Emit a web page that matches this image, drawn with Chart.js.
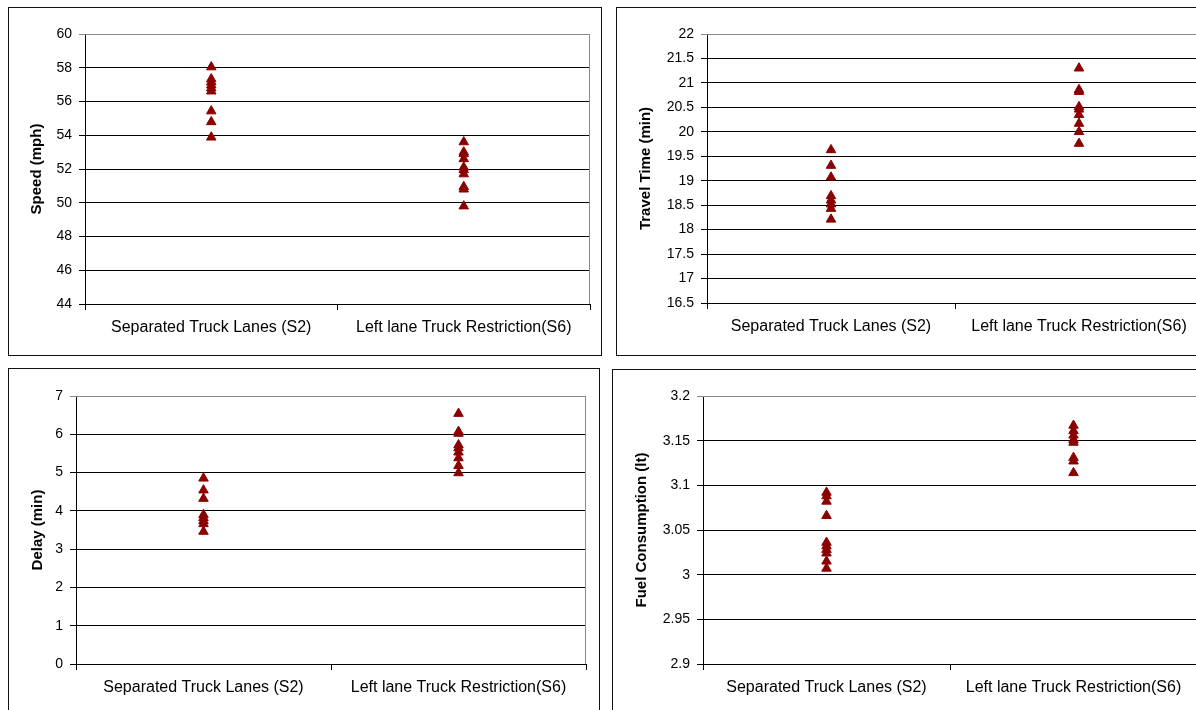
<!DOCTYPE html>
<html>
<head>
<meta charset="utf-8">
<script src="https://cdn.jsdelivr.net/npm/chart.js@4/dist/chart.umd.min.js"></script>
<style>
  html, body { margin: 0; padding: 0; background: #fff; }
  body { width: 1196px; height: 710px; overflow: hidden; position: relative; }
  .box { position: absolute; border: 1.5px solid #111; box-sizing: border-box; }
  .wrap { position: absolute; }
</style>
</head>
<body>
<div class="box" style="left:8px;top:7px;width:594px;height:349px"></div>
<div class="box" style="left:616px;top:7px;width:600px;height:349px"></div>
<div class="box" style="left:8px;top:368px;width:592px;height:360px"></div>
<div class="box" style="left:612px;top:369px;width:600px;height:360px"></div>

<div class="wrap" style="left:8px;top:7px;width:594px;height:349px"><canvas id="c1"></canvas></div>
<div class="wrap" style="left:616px;top:7px;width:600px;height:349px"><canvas id="c2"></canvas></div>
<div class="wrap" style="left:8px;top:368px;width:592px;height:360px"><canvas id="c3"></canvas></div>
<div class="wrap" style="left:612px;top:369px;width:600px;height:360px"><canvas id="c4"></canvas></div>

<script>
// categorias (eje x)
const categories = ["Separated Truck Lanes (S2)", "Left lane Truck Restriction(S6)"];

// velocidad (mph)
const speedS2 = [58.04, 57.33, 57.15, 56.97, 56.79, 56.61, 55.43, 54.79, 53.88];
const speedS6 = [53.6, 53.0, 52.9, 52.6, 52.1, 51.95, 51.7, 50.95, 50.8, 49.8];

// tiempo de viaje (min)
const travelS2 = [19.63, 19.31, 19.07, 18.69, 18.6, 18.52, 18.43, 18.21];
const travelS6 = [21.3, 20.86, 20.82, 20.51, 20.46, 20.35, 20.17, 20.0, 19.76];

// demora (min)
const delayS2 = [4.85, 4.54, 4.32, 3.9, 3.82, 3.74, 3.66, 3.46];
const delayS6 = [6.54, 6.07, 6.02, 5.72, 5.64, 5.53, 5.38, 5.18, 4.99];

// consumo de combustible (lt)
const fuelS2 = [3.092, 3.088, 3.082, 3.066, 3.036, 3.032, 3.028, 3.024, 3.015, 3.007];
const fuelS6 = [3.167, 3.161, 3.156, 3.151, 3.148, 3.131, 3.127, 3.114];

// escalas y
const speedTicks = { min: 44, max: 60, step: 2 };
const travelTicks = { min: 16.5, max: 22, step: 0.5 };
const delayTicks = { min: 0, max: 7, step: 1 };
const fuelTicks = { min: 2.9, max: 3.2, step: 0.05 };

const FONT = "'Liberation Sans', Arial, sans-serif";
const RED = '#8b0000';

// borde gris arriba y a la derecha del area del grafico
const plotBorder = {
    id: 'plotBorder',
    beforeDatasetsDraw(chart) {
        const a = chart.chartArea, c = chart.ctx;
        c.save();
        c.strokeStyle = '#8a8a8a';
        c.lineWidth = 1;
        c.beginPath();
        c.moveTo(a.left, a.top + 0.5);
        c.lineTo(a.right - 0.5, a.top + 0.5);
        c.lineTo(a.right - 0.5, a.bottom);
        c.stroke();
        c.restore();
    }
};

function points(s2, s6) {
    return s2.map(v => ({ x: categories[0], y: v }))
        .concat(s6.map(v => ({ x: categories[1], y: v })));
}

function makeChart(id, title, s2, s6, t, lay) {
    return new Chart(document.getElementById(id), {
        type: 'line',
        data: {
            labels: categories,
            datasets: [{
                data: points(s2, s6),
                showLine: false,
                pointStyle: 'triangle',
                pointRadius: 5.5,
                pointBackgroundColor: RED,
                pointBorderColor: RED,
                pointBorderWidth: 1
            }]
        },
        options: {
            responsive: true,
            maintainAspectRatio: false,
            animation: false,
            layout: { padding: { top: lay.top, right: lay.right, left: 0, bottom: 0 } },
            plugins: { legend: { display: false }, tooltip: { enabled: false } },
            scales: {
                x: {
                    type: 'category',
                    offset: true,
                    grid: { drawOnChartArea: false, offset: true, tickLength: 6, color: '#000' },
                    border: { color: '#000' },
                    ticks: { color: '#000', font: { family: FONT, size: 16 }, padding: 8, maxRotation: 0 },
                    afterFit: s => { s.height = lay.xh; }
                },
                y: {
                    min: t.min,
                    max: t.max,
                    grid: {
                        color: c => (c.tick && Math.abs(c.tick.value - t.max) < 1e-9) ? '#8a8a8a' : '#000',
                        tickLength: 6
                    },
                    border: { color: '#000' },
                    ticks: {
                        stepSize: t.step,
                        color: '#000',
                        padding: 7,
                        font: { family: FONT, size: 14 },
                        callback: v => String(+v.toFixed(2))
                    },
                    title: {
                        display: true,
                        text: title,
                        color: '#000',
                        font: { family: FONT, size: 15, weight: 'bold' },
                        padding: { top: lay.tp, bottom: 0 }
                    },
                    afterFit: s => { s.width = lay.yw; }
                }
            }
        },
        plugins: [plotBorder]
    });
}

makeChart('c1', 'Speed (mph)', speedS2, speedS6, speedTicks, { top: 27, right: 12, xh: 52, yw: 77, tp: 20 });
makeChart('c2', 'Travel Time (min)', travelS2, travelS6, travelTicks, { top: 27, right: 13, xh: 53, yw: 91, tp: 21 });
makeChart('c3', 'Delay (min)', delayS2, delayS6, delayTicks, { top: 28, right: 14, xh: 64, yw: 68, tp: 21 });
makeChart('c4', 'Fuel Consumption (lt)', fuelS2, fuelS6, fuelTicks, { top: 27, right: 15, xh: 65, yw: 91, tp: 21 });
</script>
</body>
</html>
